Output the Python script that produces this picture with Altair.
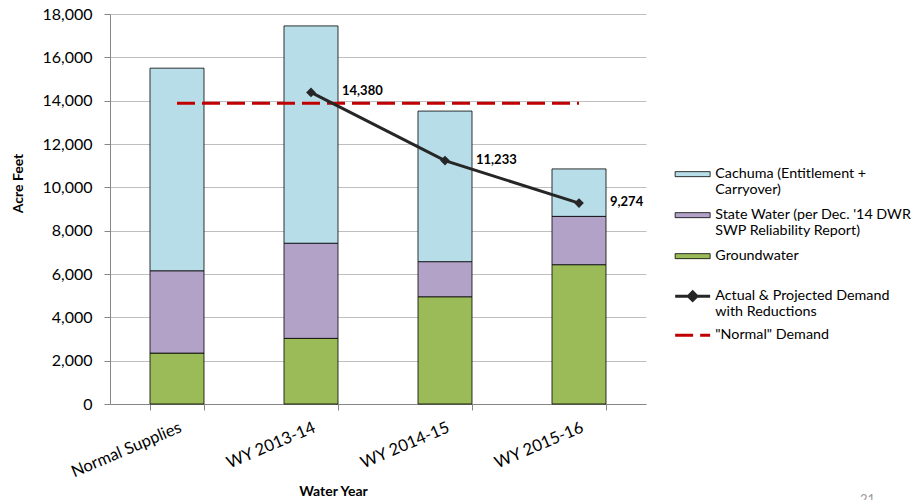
import altair as alt
import pandas as pd

# Categories on the x axis
years = ["Normal Supplies", "WY 2013-14", "WY 2014-15", "WY 2015-16"]

# Supply by source, acre-feet (stacked bottom to top: groundwater, state water, Cachuma)
groundwater = [2350, 3030, 4950, 6430]
state_water = [3800, 4390, 1620, 2230]
cachuma = [9350, 10030, 6950, 2190]

source_names = [
    "Cachuma (Entitlement +|Carryover)",
    "State Water (per Dec. '14 DWR|SWP Reliability Report)",
    "Groundwater",
]
source_colors = ["#b7dde8", "#b3a2c7", "#9bbb59"]

# Demand series, acre-feet
demand_years = ["WY 2013-14", "WY 2014-15", "WY 2015-16"]
demand_values = [14380, 11233, 9274]
normal_demand = [13880, 13880, 13880, 13880]

demand_name = "Actual & Projected Demand|with Reductions"
normal_name = '"Normal" Demand'
demand_color = "#262626"
normal_color = "#c00000"

FONT = "Lato"

# ---- tables -------------------------------------------------------------
supply_rows = []
for i, yr in enumerate(years):
    for pos, (name, vals) in enumerate(
        [(source_names[2], groundwater), (source_names[1], state_water), (source_names[0], cachuma)]
    ):
        supply_rows.append({"year": yr, "source": name, "acre_feet": vals[i], "stack_pos": pos})
supply = pd.DataFrame(supply_rows)

demand_df = pd.DataFrame({"year": demand_years, "acre_feet": demand_values, "series": demand_name})
normal_df = pd.DataFrame({"year": years, "acre_feet": normal_demand, "series": normal_name})

# ---- shared encodings ---------------------------------------------------
x_scale = alt.Scale(domain=years, paddingInner=0.597, paddingOuter=0.2985)
x_axis = alt.Axis(
    title="Water Year",
    labelAngle=337,
    labelAlign="right",
    labelBaseline="top",
    labelFontSize=16.5,
    labelPadding=9,
    tickBand="extent",
    tickSize=6,
    domainColor="#868686",
    tickColor="#868686",
    titleFontWeight="bold",
    titleFontSize=14,
    titleX=223,
    titleY=91,
    titleBaseline="alphabetic",
    titleAlign="center",
)
y_scale = alt.Scale(domain=[0, 18000], nice=False)
y_axis = alt.Axis(
    title="Acre Feet",
    values=list(range(0, 18001, 2000)),
    format=",d",
    tickSize=6,
    labelFontSize=16,
    labelPadding=12,
    gridColor="#bfbfbf",
    domainColor="#868686",
    tickColor="#868686",
    titleFontWeight="bold",
    titleFontSize=14,
    titleAngle=270,
    titleAlign="center",
    titleBaseline="middle",
    titleX=-92,
    titleY=169,
)

x_enc = alt.X("year:N", sort=years, scale=x_scale, axis=x_axis)
y_enc = alt.Y("acre_feet:Q", scale=y_scale, axis=y_axis)

# Small nominal symbols keep legend rows compact; the symbol paths reach
# past their unit box to draw the wide swatches, and the labels are pushed
# right of them. Label tops sit at the entry centre, so swatches sit lower.
legend_text = dict(
    title=None,
    orient="none",
    legendX=563,
    padding=0,
    symbolSize=100,
    labelExpr="split(datum.label, '|')",
    labelFont=FONT,
    labelFontSize=14.3,
    labelColor="#000",
    labelOffset=28,
    labelLimit=400,
    labelBaseline="top",
)

fill_legend = alt.Legend(
    legendY=146,
    symbolType="M-1,0.9L6,0.9L6,1.9L-1,1.9Z",
    symbolStrokeColor="#000",
    symbolStrokeWidth=0.8,
    rowPadding=3,
    **legend_text,
)

demand_legend = alt.Legend(
    legendY=268,
    symbolType="M-1,1.4L6,1.4M2.5,0.55L3.35,1.4L2.5,2.25L1.65,1.4Z",
    symbolStrokeWidth=3,
    symbolFillColor=demand_color,
    **legend_text,
)

normal_legend = alt.Legend(
    legendY=307,
    symbolType="M-1,1.4L6,1.4",
    symbolStrokeWidth=3,
    symbolDash=[13, 9],
    **legend_text,
)

# ---- layers -------------------------------------------------------------
bars = alt.Chart(supply).mark_bar(stroke="#000", strokeWidth=0.8).encode(
    x=x_enc,
    y=alt.Y("acre_feet:Q", stack="zero", scale=y_scale, axis=y_axis),
    fill=alt.Fill("source:N", scale=alt.Scale(domain=source_names, range=source_colors), legend=fill_legend),
    order=alt.Order("stack_pos:Q", sort="ascending"),
)

normal_line = alt.Chart(normal_df).mark_line(strokeWidth=3.2, color=normal_color).encode(
    x=x_enc,
    y=y_enc,
    strokeDash=alt.StrokeDash(
        "series:N", scale=alt.Scale(domain=[normal_name], range=[[18, 7]]), legend=normal_legend
    ),
)

demand_line = alt.Chart(demand_df).mark_line(strokeWidth=3).encode(
    x=x_enc,
    y=y_enc,
    stroke=alt.Stroke(
        "series:N", scale=alt.Scale(domain=[demand_name], range=[demand_color]), legend=demand_legend
    ),
)

diamonds = alt.Chart(demand_df).mark_point(
    shape="diamond", filled=True, size=95, color=demand_color, opacity=1
).encode(x=x_enc, y=y_enc)

labels = alt.Chart(demand_df).mark_text(
    align="left", baseline="middle", dx=31, dy=-1, font=FONT, fontSize=13, fontWeight="bold", color="#000"
).encode(x=x_enc, y=y_enc, text=alt.Text("acre_feet:Q", format=",d"))

page = alt.Chart(pd.DataFrame({"page": ["21"]})).mark_text(
    align="left", baseline="top", font=FONT, fontSize=13, color="#9a9a9a"
).encode(x=alt.value(750), y=alt.value(480), text="page:N")

chart = (
    alt.layer(bars, normal_line, demand_line, diamonds, labels, page)
    .resolve_legend(stroke="independent", strokeDash="independent", fill="independent")
    .properties(
        width=536,
        height=390,
        autosize=alt.AutoSizeParams(type="none"),
        padding={"left": 110, "top": 14, "right": 268, "bottom": 96},
    )
    .configure_view(stroke=None)
    .configure_axis(labelFont=FONT, titleFont=FONT, labelColor="#000", titleColor="#000")
)

chart.save("out.html", embed_options={"renderer": "svg", "actions": False})
